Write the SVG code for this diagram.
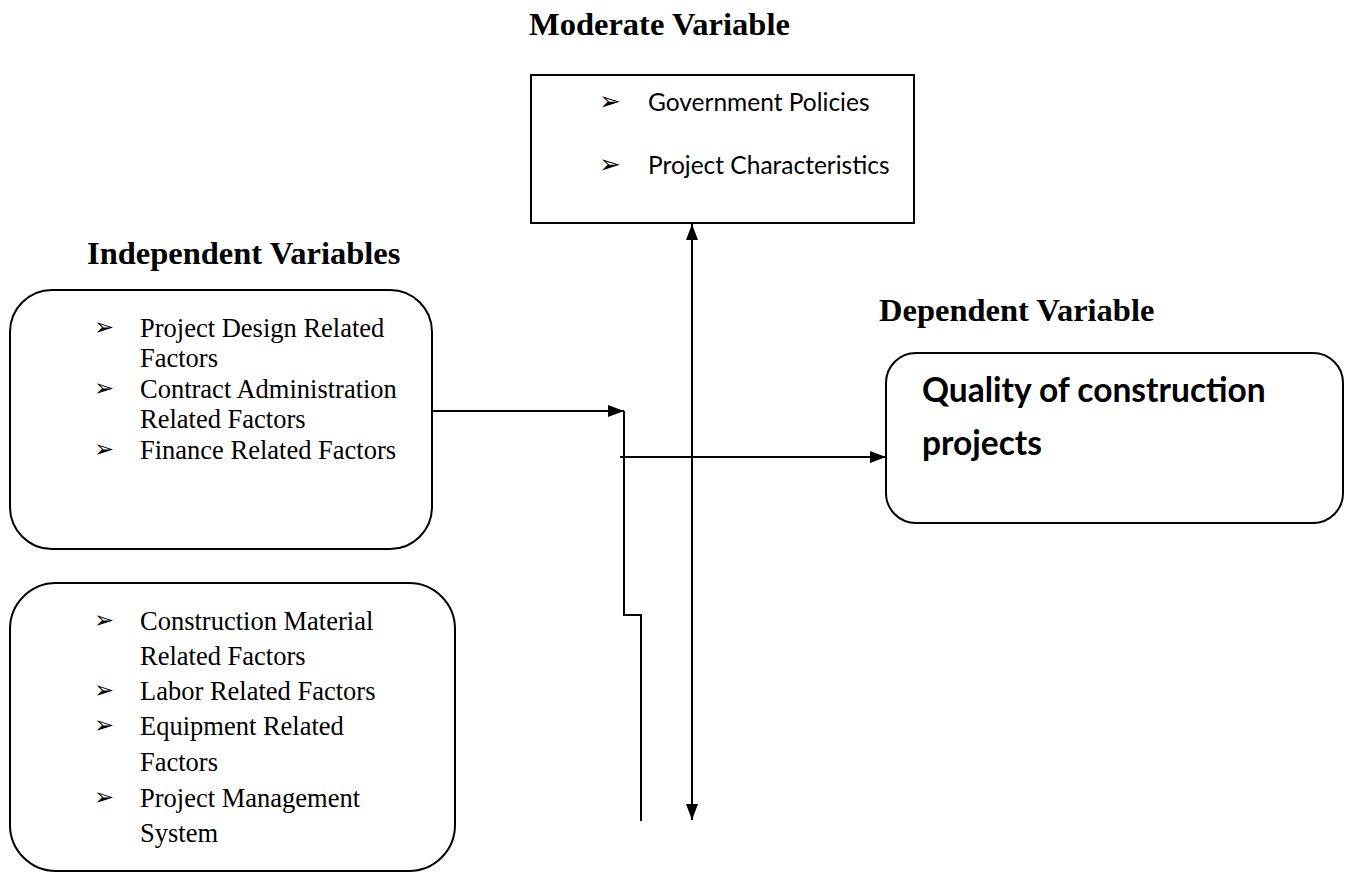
<svg xmlns="http://www.w3.org/2000/svg" width="1349" height="874" viewBox="0 0 1349 874">
<style>
.title{font-family:"Liberation Serif",serif;font-weight:bold;font-size:32.5px;fill:#000}
.body{font-family:"Liberation Serif",serif;font-size:26.5px;fill:#000}
.sans{font-family:Lato,"Open Sans",sans-serif;font-size:24.5px;fill:#000}
.dep{font-family:Lato,"Open Sans",sans-serif;font-weight:bold;font-size:33.5px;fill:#000}
.bul{font-family:"DejaVu Sans",sans-serif;font-size:24px;fill:#000}
.bulm{font-family:"DejaVu Sans",sans-serif;font-size:26px;fill:#000}
.box{fill:#fff;stroke:#000;stroke-width:2}
.con{fill:none;stroke:#000;stroke-width:2}
</style>
<defs>
<marker id="arr" viewBox="0 0 16 12" refX="16" refY="6" markerWidth="16" markerHeight="12" markerUnits="userSpaceOnUse" orient="auto-start-reverse">
<path d="M0,0 L16,6 L0,12 Z" fill="#000"/>
</marker>
</defs>
<rect width="1349" height="874" fill="#fff"/>
<text class="title" x="529" y="35">Moderate Variable</text>
<text class="title" x="87" y="264">Independent Variables</text>
<text class="title" x="879" y="321">Dependent Variable</text>

<g id="moderate">
<rect class="box" x="531" y="75" width="383" height="148"/>
<text class="bulm" x="599" y="110">➢</text>
<text class="sans" x="648" y="111">Government Policies</text>
<text class="bulm" x="599" y="173">➢</text>
<text class="sans" x="648" y="174">Project Characteristics</text>
</g>

<g id="independent1">
<rect class="box" x="10" y="290" width="422" height="259" rx="42" ry="42"/>
<text class="bul" x="94" y="335">➢</text>
<text class="body" x="140" y="337">Project Design Related</text>
<text class="body" x="140" y="367">Factors</text>
<text class="bul" x="94" y="396">➢</text>
<text class="body" x="140" y="398">Contract Administration</text>
<text class="body" x="140" y="428">Related Factors</text>
<text class="bul" x="94" y="457">➢</text>
<text class="body" x="140" y="459">Finance Related Factors</text>
</g>

<g id="independent2">
<rect class="box" x="10" y="583" width="445" height="288" rx="46" ry="46"/>
<text class="bul" x="94" y="628">➢</text>
<text class="body" x="140" y="630">Construction Material</text>
<text class="body" x="140" y="665">Related Factors</text>
<text class="bul" x="94" y="698">➢</text>
<text class="body" x="140" y="700">Labor Related Factors</text>
<text class="bul" x="94" y="733">➢</text>
<text class="body" x="140" y="735">Equipment Related</text>
<text class="body" x="140" y="771">Factors</text>
<text class="bul" x="94" y="805">➢</text>
<text class="body" x="140" y="807">Project Management</text>
<text class="body" x="140" y="842">System</text>
</g>

<g id="dependent">
<rect class="box" x="886" y="353" width="457" height="170" rx="30" ry="30"/>
<text class="dep" x="922" y="402">Quality of construction</text>
<text class="dep" x="922" y="455">projects</text>
</g>

<g id="connectors">
<line class="con" x1="432" y1="411" x2="624" y2="411" marker-end="url(#arr)"/>
<polyline class="con" points="624,411 624,615 641,615 641,821"/>
<line class="con" x1="620" y1="457" x2="886" y2="457" marker-end="url(#arr)"/>
<line class="con" x1="692" y1="224" x2="692" y2="820" marker-start="url(#arr)" marker-end="url(#arr)"/>
</g>
</svg>
